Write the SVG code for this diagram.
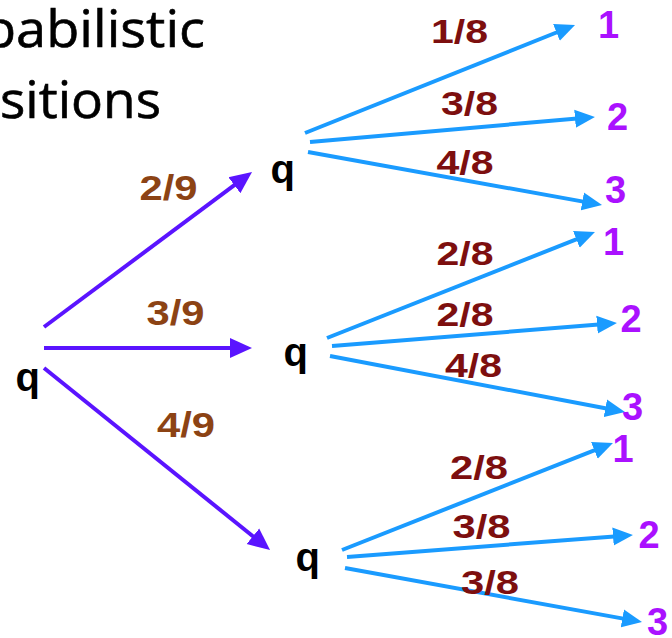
<svg xmlns="http://www.w3.org/2000/svg" width="672" height="638" viewBox="0 0 672 638">
  <style>
    .title { font-family: "Open Sans", "Liberation Sans", sans-serif; font-size: 52px; fill: #000; stroke: #000; stroke-width: 0.6; }
    .state { font-family: "Liberation Sans", Arial, sans-serif; font-weight: bold; font-size: 40px; fill: #000; }
    .out { font-family: "Liberation Sans", Arial, sans-serif; font-weight: bold; font-size: 38px; fill: #aa11ff; text-anchor: middle; }
    .p1 { font-family: "Liberation Sans", Arial, sans-serif; font-weight: bold; font-size: 35px; fill: #8c4314; text-anchor: middle; }
    .p2 { font-family: "Liberation Sans", Arial, sans-serif; font-weight: bold; font-size: 34px; fill: #7d0f0f; text-anchor: middle; }
    .first { stroke: #5a14ff; stroke-width: 4; fill: none; }
    .second { stroke: #1a9bff; stroke-width: 4; fill: none; }
  </style>
  <defs>
    <marker id="headPurple" markerUnits="userSpaceOnUse" markerWidth="24" markerHeight="22" viewBox="0 -11 24 22" refX="10" refY="0" orient="auto">
      <path d="M0,-10 L22,0 L0,10 z" fill="#5a14ff"/>
    </marker>
    <marker id="headBlue" markerUnits="userSpaceOnUse" markerWidth="22" markerHeight="20" viewBox="0 -10 22 20" refX="8" refY="0" orient="auto">
      <path d="M0,-9 L20,0 L0,9 z" fill="#1a9bff"/>
    </marker>
  </defs>

  <rect width="672" height="638" fill="#ffffff"/>

  <!-- slide title, cut at the left edge -->
  <g id="title">
    <text class="title" x="-17" y="47" textLength="222" lengthAdjust="spacingAndGlyphs">babilistic</text>
    <text class="title" x="0" y="118" textLength="161" lengthAdjust="spacingAndGlyphs">sitions</text>
  </g>

  <!-- transitions -->
  <g id="connectors">
    <line class="first" x1="44" y1="327" x2="242.4" y2="179.2" marker-end="url(#headPurple)"/>
    <line class="first" x1="44" y1="348" x2="240" y2="348" marker-end="url(#headPurple)"/>
    <line class="first" x1="44" y1="368" x2="260.7" y2="542.5" marker-end="url(#headPurple)"/>

    <line class="second" x1="305" y1="133" x2="563.9" y2="29.5" marker-end="url(#headBlue)"/>
    <line class="second" x1="310" y1="142" x2="583.0" y2="118.0" marker-end="url(#headBlue)"/>
    <line class="second" x1="308" y1="152" x2="590.2" y2="202.9" marker-end="url(#headBlue)"/>

    <line class="second" x1="327" y1="338" x2="583.8" y2="236.4" marker-end="url(#headBlue)"/>
    <line class="second" x1="332" y1="346" x2="605.0" y2="324.0" marker-end="url(#headBlue)"/>
    <line class="second" x1="330" y1="356" x2="613.2" y2="409.8" marker-end="url(#headBlue)"/>

    <line class="second" x1="342" y1="550" x2="601.8" y2="447.4" marker-end="url(#headBlue)"/>
    <line class="second" x1="347" y1="557" x2="621.0" y2="535.9" marker-end="url(#headBlue)"/>
    <line class="second" x1="345" y1="568" x2="630.2" y2="619.9" marker-end="url(#headBlue)"/>
  </g>

  <!-- transition probabilities -->
  <g id="probabilities">
    <text class="p1" x="168.5" y="200" textLength="58" lengthAdjust="spacingAndGlyphs">2/9</text>
    <text class="p1" x="175.5" y="325" textLength="58" lengthAdjust="spacingAndGlyphs">3/9</text>
    <text class="p1" x="186" y="437" textLength="58" lengthAdjust="spacingAndGlyphs">4/9</text>

    <text class="p2" x="459.5" y="43" textLength="57" lengthAdjust="spacingAndGlyphs">1/8</text>
    <text class="p2" x="469.5" y="115" textLength="57" lengthAdjust="spacingAndGlyphs">3/8</text>
    <text class="p2" x="465" y="174" textLength="57" lengthAdjust="spacingAndGlyphs">4/8</text>

    <text class="p2" x="465" y="265" textLength="57" lengthAdjust="spacingAndGlyphs">2/8</text>
    <text class="p2" x="465" y="326" textLength="57" lengthAdjust="spacingAndGlyphs">2/8</text>
    <text class="p2" x="473.5" y="377" textLength="57" lengthAdjust="spacingAndGlyphs">4/8</text>

    <text class="p2" x="479" y="479" textLength="58" lengthAdjust="spacingAndGlyphs">2/8</text>
    <text class="p2" x="481.5" y="538" textLength="58" lengthAdjust="spacingAndGlyphs">3/8</text>
    <text class="p2" x="490" y="594" textLength="58" lengthAdjust="spacingAndGlyphs">3/8</text>
  </g>

  <!-- states -->
  <g id="q-root"><text class="state" x="15.5" y="391">q</text></g>
  <g id="q-top"><text class="state" x="270.5" y="183">q</text></g>
  <g id="q-mid"><text class="state" x="283.5" y="366">q</text></g>
  <g id="q-bottom"><text class="state" x="295.5" y="571">q</text></g>

  <!-- outcomes -->
  <g id="out-top-1"><text class="out" x="608.5" y="38">1</text></g>
  <g id="out-top-2"><text class="out" x="617.5" y="130">2</text></g>
  <g id="out-top-3"><text class="out" x="615.5" y="203">3</text></g>
  <g id="out-mid-1"><text class="out" x="613.5" y="255">1</text></g>
  <g id="out-mid-2"><text class="out" x="631" y="332">2</text></g>
  <g id="out-mid-3"><text class="out" x="632.5" y="420">3</text></g>
  <g id="out-bottom-1"><text class="out" x="623" y="462">1</text></g>
  <g id="out-bottom-2"><text class="out" x="649" y="548">2</text></g>
  <g id="out-bottom-3"><text class="out" x="657.5" y="635">3</text></g>
</svg>
